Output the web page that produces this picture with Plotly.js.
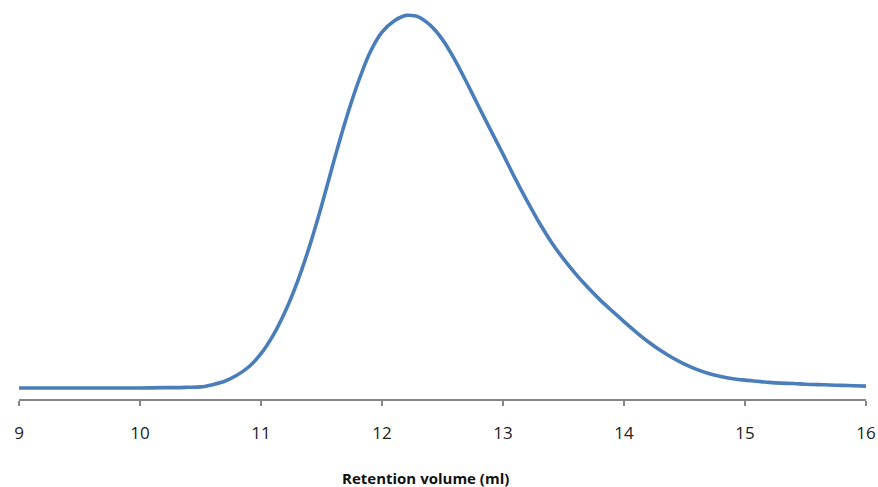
<!DOCTYPE html>
<html>
<head>
<meta charset="utf-8">
<script src="https://cdn.plot.ly/plotly-3.0.1.min.js"></script>
<style>html,body{margin:0;padding:0;background:#fff;}#chart{width:878px;height:487px;}</style>
</head>
<body>
<div id="chart"></div>
<script>
// Retention volume (ml)
const retentionVolume = [9.0, 9.5, 10.0, 10.2, 10.3, 10.4, 10.5, 10.6, 10.7, 10.8, 10.9, 11.0, 11.1, 11.2, 11.3, 11.4, 11.5, 11.6, 11.7, 11.8, 11.9, 12.0, 12.1, 12.2, 12.3, 12.4, 12.5, 12.6, 12.7, 12.8, 12.9, 13.0, 13.1, 13.2, 13.3, 13.4, 13.5, 13.6, 13.7, 13.8, 13.9, 14.0, 14.1, 14.2, 14.3, 14.4, 14.5, 14.6, 14.7, 14.8, 14.9, 15.0, 15.1, 15.2, 15.3, 15.4, 15.5, 15.6, 15.7, 15.8, 15.9, 16.0];
// Detector signal (normalised to peak)
const signal = [0, 0, 0, 0.001, 0.001, 0.002, 0.003, 0.009, 0.018, 0.034, 0.057, 0.092, 0.141, 0.205, 0.284, 0.379, 0.488, 0.606, 0.718, 0.817, 0.899, 0.954, 0.984, 0.999, 0.995, 0.972, 0.934, 0.881, 0.819, 0.754, 0.690, 0.627, 0.562, 0.501, 0.443, 0.391, 0.346, 0.306, 0.270, 0.237, 0.207, 0.178, 0.150, 0.124, 0.101, 0.081, 0.064, 0.050, 0.039, 0.031, 0.025, 0.021, 0.018, 0.015, 0.013, 0.012, 0.010, 0.009, 0.008, 0.007, 0.006, 0.005];
const tickValues = [9, 10, 11, 12, 13, 14, 15, 16];
const tickLabels = ["9", "10", "11", "12", "13", "14", "15", "16"];
const xTitle = "Retention volume (ml)";

const trace = {
  x: retentionVolume,
  y: signal,
  type: "scatter",
  mode: "lines",
  line: {color: "#4A7EBB", width: 3.6, shape: "spline", smoothing: 0.7},
  hoverinfo: "x+y"
};

const layout = {
  width: 878,
  height: 487,
  margin: {l: 19, r: 12, t: 10, b: 88},
  paper_bgcolor: "#ffffff",
  plot_bgcolor: "#ffffff",
  showlegend: false,
  font: {family: "Open Sans, Liberation Sans, sans-serif", color: "#222"},
  xaxis: {
    range: [9, 16],
    tickvals: tickValues,
    ticktext: tickLabels,
    ticks: "outside",
    ticklen: 5,
    tickwidth: 1.5,
    tickcolor: "#868686",
    showline: true,
    linecolor: "#868686",
    linewidth: 1.5,
    showgrid: false,
    zeroline: false,
    ticklabelstandoff: 13,
    tickfont: {size: 17, family: "Open Sans, sans-serif", color: "#222"},
    fixedrange: true
  },
  yaxis: {
    range: [-0.0295, 1.0134],
    visible: false,
    showgrid: false,
    zeroline: false,
    fixedrange: true
  },
  annotations: [{
    text: "<b>" + xTitle + "</b>",
    xref: "paper", yref: "paper",
    x: 0.4805, y: -0.203,
    xanchor: "center", yanchor: "middle",
    showarrow: false,
    font: {size: 15, family: "Open Sans, sans-serif", color: "#111"}
  }]
};

Plotly.newPlot("chart", [trace], layout, {displayModeBar: false, staticPlot: true});
</script>
</body>
</html>
